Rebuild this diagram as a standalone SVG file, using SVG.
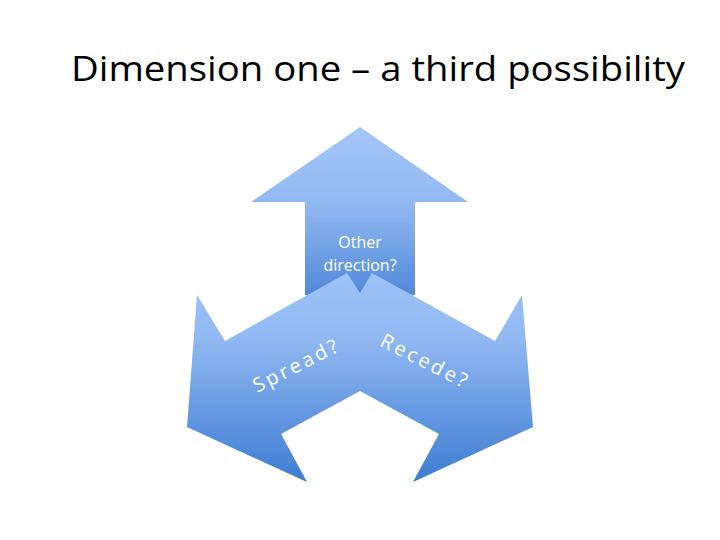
<svg xmlns="http://www.w3.org/2000/svg" width="720" height="540" viewBox="0 0 720 540">
<defs>
<linearGradient id="gu" x1="0" y1="127" x2="0" y2="295" gradientUnits="userSpaceOnUse"><stop offset="0" stop-color="#a3c6f8"/><stop offset="0.45" stop-color="#92b9f2"/><stop offset="1" stop-color="#5189d9"/></linearGradient>
<linearGradient id="gc" x1="0" y1="273" x2="0" y2="482" gradientUnits="userSpaceOnUse"><stop offset="0" stop-color="#9dc2f8"/><stop offset="0.3" stop-color="#92b9f2"/><stop offset="1" stop-color="#3d7cd2"/></linearGradient>
<style>.t{font-family:"Open Sans","Noto Sans",sans-serif;fill:#fff}</style>
</defs>
<rect width="720" height="540" fill="#fff"/>
<text x="378" y="81" text-anchor="middle" font-family="'Open Sans','Noto Sans',sans-serif" font-size="34" fill="#000" textLength="614" lengthAdjust="spacingAndGlyphs">Dimension one – a third possibility</text>
<g id="up">
<polygon points="360,127 468,202 415,202 415,295 305,295 305,202 251,202" fill="url(#gu)"/>
<text class="t" x="360" y="248" text-anchor="middle" font-size="16">Other</text>
<text class="t" x="360" y="271" text-anchor="middle" font-size="16">direction?</text>
</g>
<g id="spread-recede">
<polygon points="347,273 360,293 372,273 495,341 522,295 533,427 413,482 439,434 360,391 281,434 307,482 187,427 197,295 225,341" fill="url(#gc)"/>
<text class="t" x="297" y="372" text-anchor="middle" font-size="20" letter-spacing="3" transform="rotate(-27 297 366)">Spread?</text>
<text class="t" x="425" y="368" text-anchor="middle" font-size="20" letter-spacing="3" transform="rotate(27 425 362)">Recede?</text>
</g>
</svg>
